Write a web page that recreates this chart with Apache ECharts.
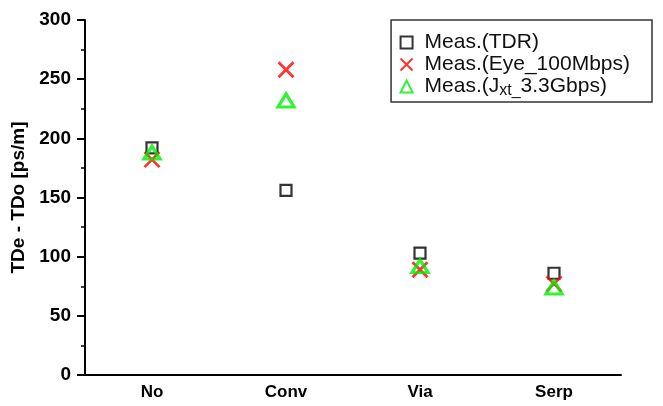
<!DOCTYPE html>
<html>
<head>
<meta charset="utf-8">
<script src="https://cdn.jsdelivr.net/npm/echarts@6/dist/echarts.min.js"></script>
<style>
  html, body { margin: 0; padding: 0; background: #fff; }
  #chart { width: 663px; height: 406px; }
</style>
</head>
<body>
<div id="chart"></div>
<script>
const categories = ['No', 'Conv', 'Via', 'Serp']
const tdr = [192, 156, 103, 86]
const eye100 = [182, 258, 89, 77]
const jxt33 = [188, 232, 92, 74]
const yTicks = [0, 50, 100, 150, 200, 250, 300]

const crossPath = 'path://M0,0L10,10M10,0L0,10'

const myChart = echarts.init(document.getElementById('chart'))
let option
option = {
  animation: false,
  textStyle: { fontFamily: 'Liberation Sans, Arial, sans-serif' },
  grid: { left: 85, right: 42, top: 20, bottom: 31 },
  legend: {
    orient: 'vertical',
    right: 11,
    top: 20,
    padding: [12, 22, 3, 7],
    itemGap: 1,
    itemWidth: 12,
    itemHeight: 12,
    borderColor: '#333',
    borderWidth: 1.5,
    textStyle: {
      fontSize: 21,
      color: '#111',
      padding: [0, 0, 0, 7],
      rich: {
        sub: { fontSize: 16, color: '#111', verticalAlign: 'bottom', padding: [9, 0, 0, 0] }
      }
    },
    formatter: function (name) {
      if (name.indexOf('J_xt') >= 0) {
        return 'Meas.(J{sub|xt_}3.3Gbps)'
      }
      return name
    },
    data: ['Meas.(TDR)', 'Meas.(Eye_100Mbps)', 'Meas.(J_xt_3.3Gbps)']
  },
  xAxis: {
    type: 'category',
    data: categories,
    boundaryGap: true,
    axisLine: { lineStyle: { color: '#000', width: 2 } },
    axisTick: { alignWithLabel: true, length: 6, lineStyle: { color: '#000', width: 2 } },
    axisLabel: { color: '#000', fontSize: 17, fontWeight: 'bold', margin: 9 },
    splitLine: { show: false }
  },
  yAxis: {
    type: 'value',
    min: 0,
    max: 300,
    interval: 50,
    name: 'TDe - TDo [ps/m]',
    nameLocation: 'middle',
    nameRotate: 90,
    nameGap: 54,
    nameTextStyle: { color: '#000', fontSize: 19, fontWeight: 'bold' },
    axisLine: { show: true, lineStyle: { color: '#000', width: 2 } },
    axisTick: { show: true, length: 8, lineStyle: { color: '#000', width: 2 } },
    minorTick: { show: true, splitNumber: 2, length: 4, lineStyle: { color: '#000', width: 1.5 } },
    axisLabel: {
      color: '#000', fontSize: 19, fontWeight: 'bold', margin: 14,
      formatter: function (v) { return yTicks.indexOf(v) >= 0 ? String(v) : '' }
    },
    splitLine: { show: false }
  },
  series: [
    {
      name: 'Meas.(TDR)',
      type: 'scatter',
      data: tdr,
      symbol: 'rect',
      symbolSize: 11,
      itemStyle: { color: '#fff', borderColor: '#000', borderWidth: 2.2 },
      z: 2
    },
    {
      name: 'Meas.(Eye_100Mbps)',
      type: 'scatter',
      data: eye100,
      symbol: crossPath,
      symbolSize: 15,
      itemStyle: { color: 'none', borderColor: '#ff0000', borderWidth: 2.8 },
      z: 3
    },
    {
      name: 'Meas.(J_xt_3.3Gbps)',
      type: 'scatter',
      data: jxt33,
      symbol: 'triangle',
      symbolSize: [16, 13],
      itemStyle: { color: 'rgba(255,255,255,0)', borderColor: '#00ee00', borderWidth: 3.2 },
      z: 4
    }
  ]
}
option && myChart.setOption(option)
</script>
</body>
</html>
